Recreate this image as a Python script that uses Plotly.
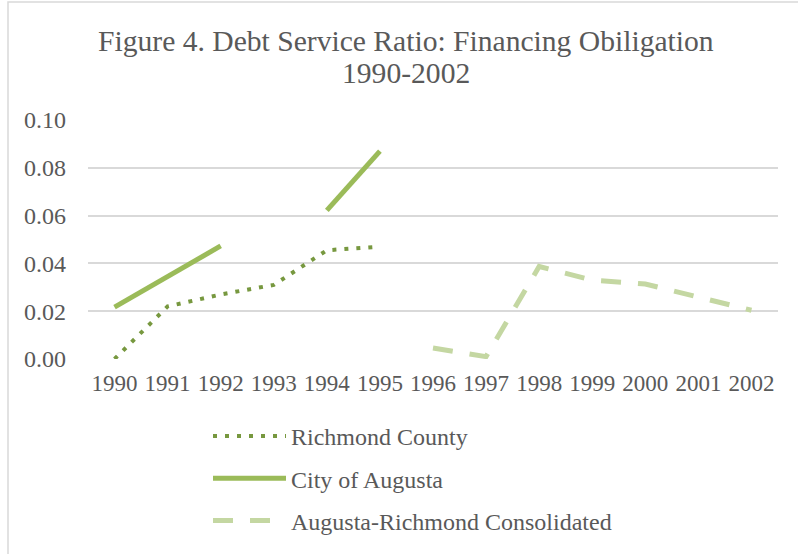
import plotly.graph_objects as go

years = [str(y) for y in range(1990, 2003)]
richmond_county = [0.000, 0.022, 0.027, 0.031, 0.0455, 0.047, None, None, None, None, None, None, None]
city_of_augusta = [0.0217, 0.0345, 0.0473, None, 0.0622, 0.087, None, None, None, None, None, None, None]
consolidated = [None, None, None, None, None, None, 0.0046, 0.0010, 0.0387, 0.0330, 0.0314, 0.0260, 0.0204]
y_ticks = [0.00, 0.02, 0.04, 0.06, 0.08, 0.10]
title_lines = ["Figure 4. Debt Service Ratio: Financing Obiligation", "1990-2002"]

FONT = "Liberation Serif, Times New Roman, serif"
GRAY = "#595959"

W, H = 798, 554
L, R, T, B = 88, 20, 120, 195
pw, ph = W - L - R, H - T - B

def px(x):
    return (x - L) / pw

def py(y):
    return (H - B - y) / ph

fig = go.Figure()
fig.add_trace(go.Scatter(x=years, y=richmond_county, name="Richmond County", mode="lines",
                         legendgroup="a",
                         line=dict(color="#77983f", width=4, dash="4px,8px")))
fig.add_trace(go.Scatter(x=years, y=city_of_augusta, name="City of Augusta", mode="lines",
                         legendgroup="b",
                         line=dict(color="#9bbb59", width=5)))
fig.add_trace(go.Scatter(x=years, y=consolidated, name="Augusta-Richmond Consolidated", mode="lines",
                         legendgroup="c",
                         line=dict(color="#c4d7a2", width=5, dash="20px,17px")))

annotations = [
    dict(text=title_lines[0], xref="paper", yref="paper", x=px(406), y=py(41),
         xanchor="center", yanchor="middle", showarrow=False,
         font=dict(family=FONT, size=29.6, color=GRAY)),
    dict(text=title_lines[1], xref="paper", yref="paper", x=px(406), y=py(73),
         xanchor="center", yanchor="middle", showarrow=False,
         font=dict(family=FONT, size=29.6, color=GRAY)),
]

fig.update_layout(
    width=W, height=H,
    margin=dict(l=L, r=R, t=T, b=B, autoexpand=False),
    paper_bgcolor="white", plot_bgcolor="white",
    font=dict(family=FONT, color=GRAY, size=23),
    annotations=annotations,
    xaxis=dict(type="category", range=[-0.5, 12.5], showgrid=False, zeroline=False, showline=False,
               ticks="", tickfont=dict(size=23, color=GRAY), ticklabelstandoff=8, automargin=False),
    yaxis=dict(range=[0, 0.1], tickvals=y_ticks, tickformat=".2f", showgrid=True,
               gridcolor="#d9d9d9", gridwidth=1.5, zeroline=False, showline=False,
               ticks="", tickfont=dict(size=24, color=GRAY), ticklabelstandoff=21, automargin=False),
    legend=dict(x=px(208), xanchor="left", y=py(414), yanchor="top",
                font=dict(size=24, color=GRAY), tracegroupgap=8, itemwidth=73,
                bgcolor="rgba(0,0,0,0)"),
    shapes=[dict(type="rect", xref="paper", yref="paper",
                 x0=px(8), x1=px(810), y0=py(570), y1=py(2),
                 line=dict(color="#d9d9d9", width=1.5), fillcolor="rgba(0,0,0,0)", layer="below")],
)

fig.write_html("out.html")
